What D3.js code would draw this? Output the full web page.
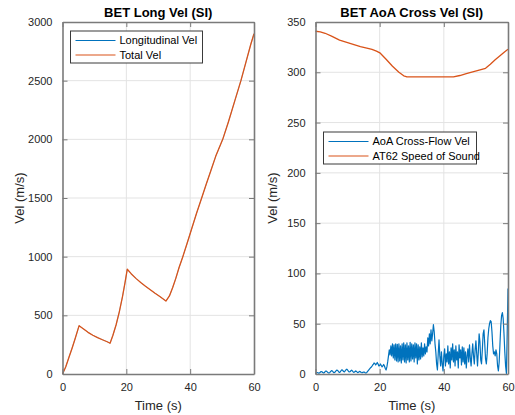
<!DOCTYPE html>
<html>
<head>
<meta charset="utf-8">
<script src="https://cdn.jsdelivr.net/npm/d3@7"></script>
<style>
  html, body { margin: 0; padding: 0; background: #fff; }
  svg { display: block; font-family: "Liberation Sans", Arial, Helvetica, sans-serif; }
</style>
</head>
<body>
<svg id="fig" width="515" height="415"></svg>
<script>
// ---- Left panel: longitudinal / total velocity (m/s) vs time (s) ----
const longTime  = [0, 1, 2, 3, 4, 5.2, 6.5, 8, 9.5, 11, 12.5, 14, 14.9, 15.8, 16.8, 17.8, 18.8, 19.6, 20.3,
                   21.5, 23, 24.5, 26, 27.5, 29, 30.5, 32.4, 33.5, 34.5, 35.5, 36.5, 37.7, 39, 40.5, 42, 43.6,
                   45, 46.5, 48, 50.2, 52, 54, 55.9, 57.5, 59, 60];
const totalVel  = [0, 60, 140, 220, 305, 412, 385, 355, 330, 310, 292, 275, 262, 330, 420, 530, 660, 780, 893,
                   855, 815, 780, 748, 718, 688, 660, 622, 665, 735, 815, 905, 1000, 1110, 1240, 1370, 1500,
                   1615, 1735, 1855, 2000, 2150, 2330, 2500, 2660, 2810, 2900];
const longVel   = totalVel.slice();   // longitudinal component coincides with total
const longXTicks = [0, 20, 40, 60];
const longYTicks = [0, 500, 1000, 1500, 2000, 2500, 3000];

// ---- Right panel: speed of sound and cross-flow velocity (m/s) ----
const sosTime  = [0, 1.5, 3, 5, 7.5, 10, 12, 14, 16, 17.6, 19, 20.2, 22, 24, 26, 27.5, 28.5, 32, 36, 40, 43,
                  45, 47, 49, 51, 53, 54.5, 56, 57.5, 59, 60];
const sosVel   = [340.8, 340.2, 338.8, 336, 332, 329.5, 327.5, 325.6, 324, 322.8, 321, 319, 313, 306, 300,
                  296.5, 295.5, 295.5, 295.5, 295.5, 295.5, 296.8, 298.6, 300.5, 302.2, 304, 308, 312.5, 316.5,
                  320.5, 323];

const crossDt = 0.25;   // sample interval of the cross-flow record (s)
const crossVel = [
  0.5, 1.0, 1.5, 1.2, 0.8, 1.0, 1.8, 2.5, 2.2, 1.5, 1.0, 1.4, 2.4, 3.0, 2.6, 1.8,        // 0 - 3.75
  1.2, 1.0, 1.6, 2.6, 3.4, 3.0, 2.0, 1.3, 1.5, 2.5, 3.6, 3.9, 3.2, 2.0, 1.5, 2.2,        // 4 - 7.75
  3.5, 4.2, 3.6, 2.4, 2.0, 3.0, 4.2, 4.8, 4.0, 2.8, 2.0, 2.2, 3.2, 3.8, 3.0, 2.0,        // 8 - 11.75
  1.6, 2.2, 3.0, 2.6, 1.8, 1.4, 2.0, 2.6, 2.2, 1.5, 1.2, 1.6, 2.0, 1.8, 1.2, 1.0,        // 12 - 15.75
  1.5, 2.5, 3.5, 4.5, 5.5, 6.5, 7.2, 8.5, 9.5, 11.0, 10.5, 9.0, 10.0, 11.5, 10.0, 8.0,   // 16 - 19.75
  8.5, 10.0, 8.5, 7.0, 8.0, 9.5, 8.0, 5.5, 4.0, 7.0, 12.0, 18.0, 24.0, 19.0, 28.0, 18.0, // 20 - 23.75
  30.0, 16.0, 29.0, 14.0, 30.0, 13.0, 29.5, 12.0, 30.0, 13.0, 28.0, 11.0, 30.0, 14.0, 31.0, 12.0, // 24 - 27.75
  29.0, 11.0, 31.0, 14.0, 28.0, 12.0, 31.5, 13.0, 30.0, 15.0, 29.0, 12.0, 31.0, 16.0, 30.0, 10.0, // 28 - 31.75
  29.0, 14.0, 27.0, 15.0, 31.0, 17.0, 26.0, 18.0, 30.0, 20.0, 27.0, 22.0, 36.0, 28.0, 40.0, 30.0, // 32 - 35.75
  44.0, 33.0, 40.0, 49.0, 42.0, 30.0, 22.0, 10.0, 4.0, 20.0, 34.0, 18.0, 8.0, 22.0, 10.0, 3.0,    // 36 - 39.75
  18.0, 25.0, 8.0, 20.0, 12.0, 28.0, 10.0, 22.0, 6.0, 26.0, 14.0, 30.0, 12.0, 24.0, 8.0, 28.0,     // 40 - 43.75
  14.0, 22.0, 6.0, 29.0, 16.0, 24.0, 9.0, 27.0, 12.0, 26.0, 10.0, 22.0, 6.0, 18.0, 25.0, 12.0,     // 44 - 47.75
  29.0, 16.0, 8.0, 20.0, 30.0, 18.0, 10.0, 24.0, 33.0, 20.0, 8.0, 22.0, 40.0, 32.0, 14.0, 10.0,    // 48 - 51.75
  24.0, 40.0, 44.0, 30.0, 15.0, 10.0, 20.0, 36.0, 45.0, 50.0, 53.0, 52.0, 42.0, 28.0, 20.0, 22.0,  // 52 - 55.75
  18.0, 24.0, 20.0, 8.0, 3.0, 12.0, 30.0, 48.0, 58.0, 61.0, 55.0, 40.0, 22.0, 8.0, 0.5, 40.0,      // 56 - 59.75
  85.0                                                                                              // 60
];
const crossXTicks = [0, 20, 40, 60];
const crossYTicks = [0, 50, 100, 150, 200, 250, 300, 350];

// ---- Styling ----
const BLUE = "#0072BD", ORANGE = "#D95319";
const AXIS = "#7a7a7a", GRID = "#e3e3e3", TEXT = "#262626";

const svg = d3.select("#fig");

function panel(opt) {
  const g = svg.append("g");
  const x = d3.scaleLinear().domain(opt.xDomain).range([opt.left, opt.right]);
  const y = d3.scaleLinear().domain(opt.yDomain).range([opt.bottom, opt.top]);

  // grid
  g.append("g").selectAll("line").data(opt.xTicks.slice(1, -1)).join("line")
    .attr("x1", d => x(d)).attr("x2", d => x(d))
    .attr("y1", opt.top).attr("y2", opt.bottom)
    .attr("stroke", GRID).attr("stroke-width", 1);
  g.append("g").selectAll("line").data(opt.yTicks.slice(1, -1)).join("line")
    .attr("y1", d => y(d)).attr("y2", d => y(d))
    .attr("x1", opt.left).attr("x2", opt.right)
    .attr("stroke", GRID).attr("stroke-width", 1);

  // data lines
  const plot = g.append("g");
  opt.series.forEach(s => {
    const line = d3.line().x(d => x(d[0])).y(d => y(d[1]));
    plot.append("path").datum(s.points)
      .attr("d", line).attr("fill", "none")
      .attr("stroke", s.color).attr("stroke-width", s.width)
      .attr("stroke-linejoin", "round");
  });

  // axes with inward ticks on all four sides
  const tl = 5;
  const bottomAx = d3.axisBottom(x).tickValues(opt.xTicks).tickSizeInner(-tl).tickSizeOuter(0).tickPadding(9).tickFormat(d3.format("d"));
  const topAx = d3.axisTop(x).tickValues(opt.xTicks).tickSizeInner(-tl).tickSizeOuter(0).tickFormat("");
  const leftAx = d3.axisLeft(y).tickValues(opt.yTicks).tickSizeInner(-tl).tickSizeOuter(0).tickPadding(10).tickFormat(d3.format("d"));
  const rightAx = d3.axisRight(y).tickValues(opt.yTicks).tickSizeInner(-tl).tickSizeOuter(0).tickFormat("");

  const styleAx = sel => {
    sel.select(".domain").attr("stroke", AXIS).attr("stroke-width", 1.6);
    sel.selectAll(".tick line").attr("stroke", AXIS).attr("stroke-width", 1);
    sel.selectAll(".tick text").attr("fill", TEXT).style("font-size", "11px")
      .style("font-family", "'Liberation Sans', Arial, sans-serif");
  };
  g.append("g").attr("transform", `translate(0,${opt.bottom})`).call(bottomAx).call(styleAx);
  g.append("g").attr("transform", `translate(0,${opt.top})`).call(topAx).call(styleAx);
  g.append("g").attr("transform", `translate(${opt.left},0)`).call(leftAx).call(styleAx);
  g.append("g").attr("transform", `translate(${opt.right},0)`).call(rightAx).call(styleAx);

  // title and axis labels
  const cx = (opt.left + opt.right) / 2;
  g.append("text").attr("x", cx).attr("y", 17).attr("text-anchor", "middle")
    .attr("fill", "#000").style("font-size", "13px").style("font-weight", "bold").text(opt.title);
  g.append("text").attr("x", cx).attr("y", 410).attr("text-anchor", "middle")
    .attr("fill", TEXT).style("font-size", "13px").text("Time (s)");
  g.append("text").attr("transform", `translate(${opt.left - 39},${(opt.top + opt.bottom) / 2}) rotate(-90)`)
    .attr("text-anchor", "middle").attr("fill", TEXT).style("font-size", "13px").text("Vel (m/s)");

  // legend
  const L = opt.legend;
  const lg = g.append("g");
  lg.append("rect").attr("x", L.x).attr("y", L.y).attr("width", L.w).attr("height", L.h)
    .attr("fill", "#fff").attr("stroke", "#3a3a3a").attr("stroke-width", 1);
  opt.series.forEach((s, i) => {
    const yy = L.y + 9.5 + i * 14.5;
    lg.append("line").attr("x1", L.x + 5).attr("x2", L.x + 45).attr("y1", yy).attr("y2", yy)
      .attr("stroke", s.color).attr("stroke-width", 1.2);
    lg.append("text").attr("x", L.x + 49).attr("y", yy).attr("dy", "0.35em")
      .attr("fill", "#000").style("font-size", "11px").text(s.name);
  });
}

panel({
  left: 62.5, right: 254, top: 22, bottom: 374,
  xDomain: [0, 60], yDomain: [0, 3000],
  xTicks: longXTicks, yTicks: longYTicks,
  title: "BET Long Vel (SI)",
  series: [
    { name: "Longitudinal Vel", color: BLUE, width: 0.4, points: longTime.map((t, i) => [t, longVel[i]]) },
    { name: "Total Vel", color: ORANGE, width: 1.3, points: longTime.map((t, i) => [t, totalVel[i]]) }
  ],
  legend: { x: 70.5, y: 31, w: 132, h: 32 }
});

panel({
  left: 315.5, right: 508, top: 22, bottom: 374,
  xDomain: [0, 60], yDomain: [0, 350],
  xTicks: crossXTicks, yTicks: crossYTicks,
  title: "BET AoA Cross Vel (SI)",
  series: [
    { name: "AoA Cross-Flow Vel", color: BLUE, width: 1.2, points: crossVel.map((v, i) => [i * crossDt, v]) },
    { name: "AT62 Speed of Sound", color: ORANGE, width: 1.3, points: sosTime.map((t, i) => [t, sosVel[i]]) }
  ],
  legend: { x: 323.5, y: 132, w: 153, h: 32 }
});
</script>
</body>
</html>
